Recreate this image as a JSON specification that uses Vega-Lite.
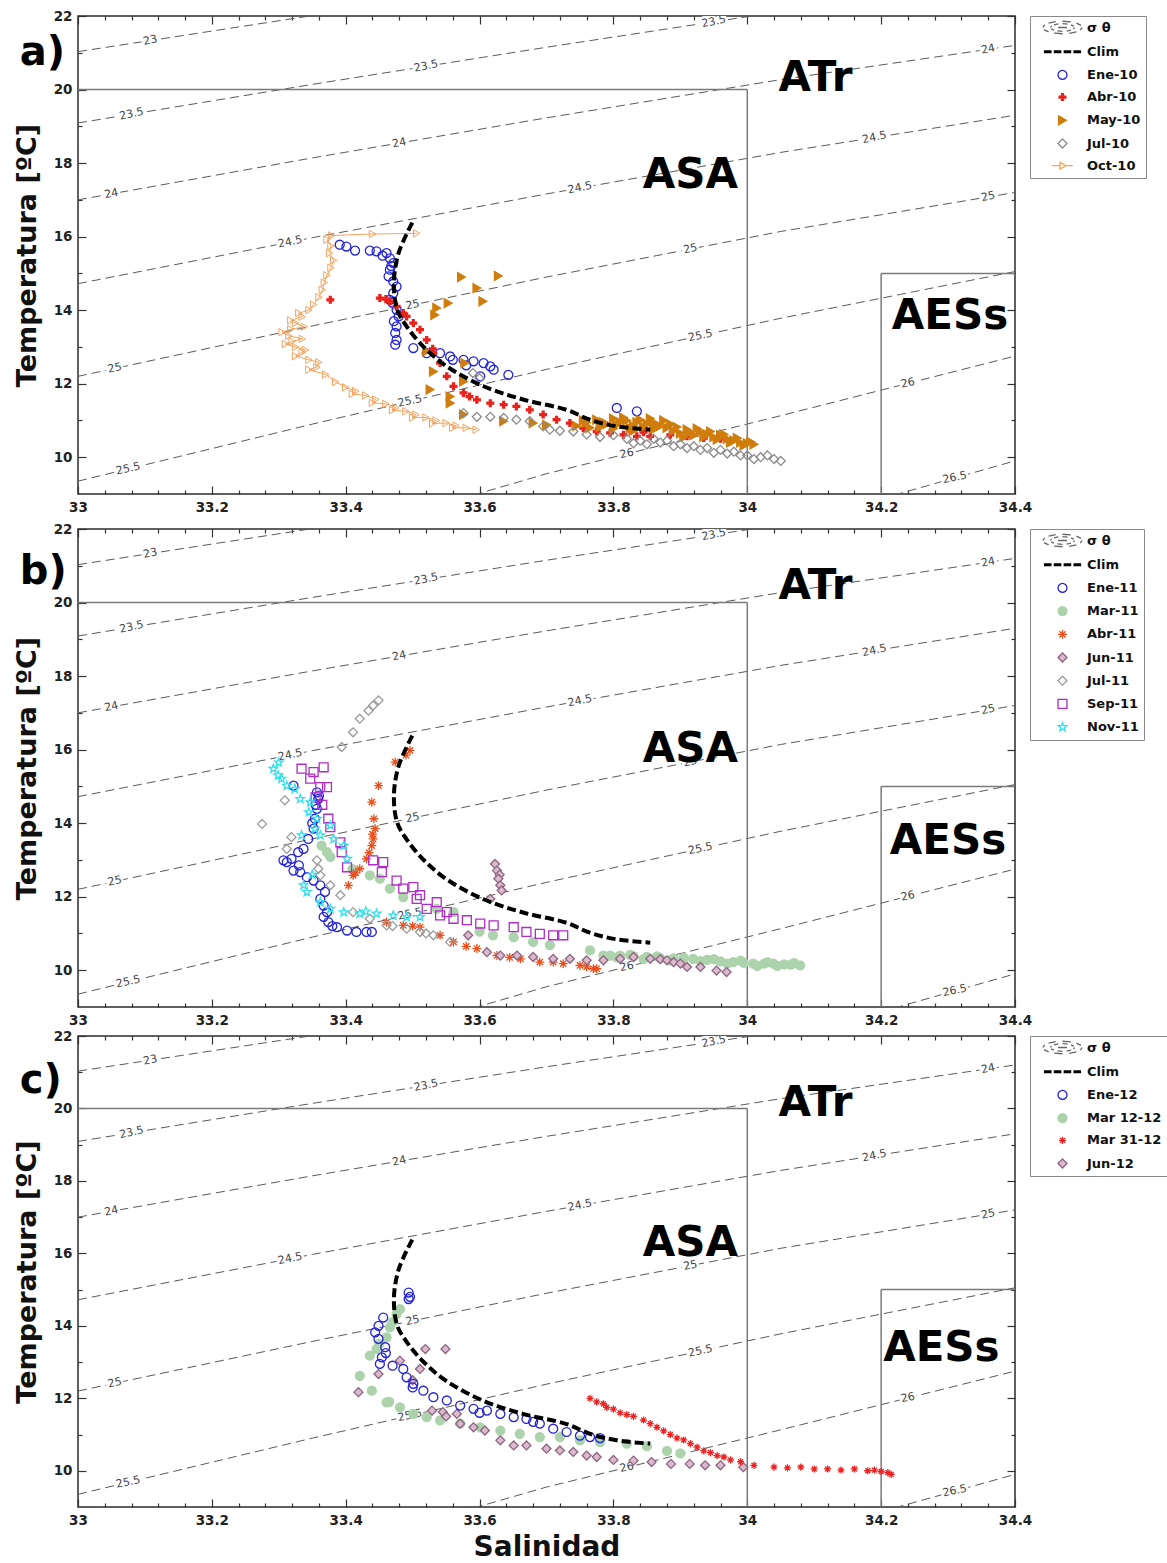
{
"$schema":"https://vega.github.io/schema/vega-lite/v6.json",
"background":"white",
"padding":{"left":12,"top":8,"right":0,"bottom":0},
"spacing":0,
"config":{
 "font":"DejaVu Sans",
 "view":{"stroke":"#2b2b2b","strokeWidth":1.5},
 "axis":{"grid":false,"domain":false,"labelFont":"DejaVu Sans","labelFontSize":13.5,"labelFontWeight":"bold","labelColor":"#222222","tickColor":"#333333","tickWidth":1.2,"labelOverlap":false,"labelFlush":false,"titleFont":"DejaVu Sans","titleFontWeight":"bold","titleFontSize":27,"titleColor":"#111111"},
 "legend":{"orient":"right","offset":14,"padding":5,"strokeColor":"#8a8a8a","fillColor":"#ffffff","labelFont":"DejaVu Sans","labelFontWeight":"bold","labelFontSize":13,"labelColor":"#111111","symbolSize":80,"symbolStrokeWidth":1.3,"rowPadding":8.2,"symbolOffset":21,"labelOffset":18,"labelLimit":300}
},
"datasets":{
"iso":[{"sig":"23","S":33,"T":21.03},{"sig":"23","S":33.35,"T":22.01},{"sig":"23","S":33.7,"T":22.95},
{"sig":"23.5","S":33,"T":19.09},{"sig":"23.5","S":33.35,"T":20.14},{"sig":"23.5","S":33.7,"T":21.15},{"sig":"23.5","S":34.05,"T":22.12},
{"sig":"24","S":33,"T":17.0},{"sig":"24","S":33.35,"T":18.14},{"sig":"24","S":33.7,"T":19.23},{"sig":"24","S":34.05,"T":20.27},{"sig":"24","S":34.4,"T":21.2},
{"sig":"24.5","S":33,"T":14.72},{"sig":"24.5","S":33.35,"T":15.97},{"sig":"24.5","S":33.7,"T":17.16},{"sig":"24.5","S":34.05,"T":18.29},{"sig":"24.5","S":34.4,"T":19.3},
{"sig":"25","S":33,"T":12.2},{"sig":"25","S":33.35,"T":13.57},{"sig":"25","S":33.7,"T":14.9},{"sig":"25","S":34.05,"T":16.14},{"sig":"25","S":34.4,"T":17.2},
{"sig":"25.5","S":33,"T":9.35},{"sig":"25.5","S":33.35,"T":10.9},{"sig":"25.5","S":33.7,"T":12.39},{"sig":"25.5","S":34.05,"T":13.78},{"sig":"25.5","S":34.4,"T":15.05},
{"sig":"26","S":33.35,"T":7.69},{"sig":"26","S":33.7,"T":9.55},{"sig":"26","S":34.05,"T":11.13},{"sig":"26","S":34.4,"T":12.75},
{"sig":"26.5","S":33.7,"T":6.03},{"sig":"26.5","S":34.05,"T":8.1},{"sig":"26.5","S":34.4,"T":9.9}],
"isolab":[{"lab":"23","S":33.108,"T":21.33},
{"lab":"23.5","S":33.08,"T":19.33},{"lab":"23.5","S":33.52,"T":20.63},{"lab":"23.5","S":33.95,"T":21.84},
{"lab":"24","S":33.05,"T":17.16},{"lab":"24","S":33.48,"T":18.54},{"lab":"24","S":34.36,"T":21.09},
{"lab":"24.5","S":33.317,"T":15.85},{"lab":"24.5","S":33.75,"T":17.32},{"lab":"24.5","S":34.19,"T":18.69},
{"lab":"25","S":33.055,"T":12.42},{"lab":"25","S":33.5,"T":14.14},{"lab":"25","S":33.915,"T":15.66},{"lab":"25","S":34.36,"T":17.08},
{"lab":"25.5","S":33.075,"T":9.68},{"lab":"25.5","S":33.496,"T":11.52},{"lab":"25.5","S":33.93,"T":13.3},
{"lab":"26","S":33.82,"T":10.09},{"lab":"26","S":34.24,"T":12.01},
{"lab":"26.5","S":34.31,"T":9.44}],
"boxes":[{"S":33,"S2":34,"T":20,"T2":20},{"S":34,"S2":34,"T":9,"T2":20},{"S":34.2,"S2":34.4,"T":15,"T2":15},{"S":34.2,"S2":34.2,"T":9,"T2":15}],
"clim":[{"i":0,"S":33.4995,"T":16.38},{"i":1,"S":33.479,"T":15.55},{"i":2,"S":33.472,"T":14.74},{"i":3,"S":33.477,"T":14.01},{"i":4,"S":33.491,"T":13.56},{"i":5,"S":33.516,"T":13.01},{"i":6,"S":33.551,"T":12.47},{"i":7,"S":33.606,"T":11.93},{"i":8,"S":33.665,"T":11.57},{"i":9,"S":33.73,"T":11.29},{"i":10,"S":33.765,"T":11.02},{"i":11,"S":33.805,"T":10.84},{"i":12,"S":33.855,"T":10.75}],
"oct":[{"i":0,"S":33.506,"T":16.09},{"i":1,"S":33.44,"T":16.07},{"i":2,"S":33.379,"T":16.03},{"i":3,"S":33.372,"T":15.92},{"i":4,"S":33.378,"T":15.75},{"i":5,"S":33.376,"T":15.55},{"i":6,"S":33.382,"T":15.35},{"i":7,"S":33.378,"T":15.15},{"i":8,"S":33.372,"T":14.95},{"i":9,"S":33.368,"T":14.75},{"i":10,"S":33.365,"T":14.55},{"i":11,"S":33.36,"T":14.35},{"i":12,"S":33.352,"T":14.15},{"i":13,"S":33.345,"T":14.0},{"i":13.5,"S":33.33,"T":13.92},{"i":14,"S":33.335,"T":13.82},{"i":14.5,"S":33.318,"T":13.72},{"i":15,"S":33.325,"T":13.65},{"i":15.5,"S":33.338,"T":13.55},{"i":16,"S":33.318,"T":13.48},{"i":16.5,"S":33.305,"T":13.4},{"i":17,"S":33.315,"T":13.3},{"i":17.5,"S":33.335,"T":13.22},{"i":18,"S":33.32,"T":13.15},{"i":18.5,"S":33.31,"T":13.08},{"i":19,"S":33.325,"T":13.0},{"i":19.5,"S":33.34,"T":12.92},{"i":20,"S":33.335,"T":12.85},{"i":20.5,"S":33.325,"T":12.75},{"i":21,"S":33.345,"T":12.65},{"i":21.5,"S":33.36,"T":12.58},{"i":22,"S":33.357,"T":12.45},{"i":22.5,"S":33.345,"T":12.38},{"i":23,"S":33.37,"T":12.25},{"i":24,"S":33.385,"T":12.05},{"i":25,"S":33.4,"T":11.9},{"i":26,"S":33.415,"T":11.8},{"i":26.5,"S":33.41,"T":11.72},{"i":27,"S":33.43,"T":11.68},{"i":28,"S":33.445,"T":11.57},{"i":28.5,"S":33.44,"T":11.48},{"i":29,"S":33.46,"T":11.45},{"i":30,"S":33.475,"T":11.35},{"i":30.5,"S":33.47,"T":11.28},{"i":31,"S":33.49,"T":11.25},{"i":32,"S":33.505,"T":11.16},{"i":32.5,"S":33.5,"T":11.08},{"i":33,"S":33.52,"T":11.08},{"i":34,"S":33.535,"T":11.0},{"i":34.5,"S":33.53,"T":10.92},{"i":35,"S":33.55,"T":10.93},{"i":36,"S":33.565,"T":10.86},{"i":36.5,"S":33.56,"T":10.8},{"i":37,"S":33.58,"T":10.8},{"i":38,"S":33.595,"T":10.75}],
"pa":[
{"serie":"Ene-10","S":33.391,"T":15.78},{"serie":"Ene-10","S":33.401,"T":15.73},{"serie":"Ene-10","S":33.414,"T":15.62},{"serie":"Ene-10","S":33.436,"T":15.62},{"serie":"Ene-10","S":33.446,"T":15.6},{"serie":"Ene-10","S":33.461,"T":15.55},{"serie":"Ene-10","S":33.466,"T":15.41},{"serie":"Ene-10","S":33.471,"T":15.28},{"serie":"Ene-10","S":33.466,"T":15.1},{"serie":"Ene-10","S":33.464,"T":14.92},{"serie":"Ene-10","S":33.471,"T":14.78},{"serie":"Ene-10","S":33.476,"T":14.64},{"serie":"Ene-10","S":33.471,"T":14.46},{"serie":"Ene-10","S":33.466,"T":14.28},{"serie":"Ene-10","S":33.476,"T":14.01},{"serie":"Ene-10","S":33.479,"T":13.83},{"serie":"Ene-10","S":33.476,"T":13.56},{"serie":"Ene-10","S":33.474,"T":13.38},{"serie":"Ene-10","S":33.476,"T":13.19},{"serie":"Ene-10","S":33.474,"T":13.06},{"serie":"Ene-10","S":33.501,"T":12.97},{"serie":"Ene-10","S":33.521,"T":12.83},{"serie":"Ene-10","S":33.541,"T":12.83},{"serie":"Ene-10","S":33.556,"T":12.74},{"serie":"Ene-10","S":33.576,"T":12.65},{"serie":"Ene-10","S":33.591,"T":12.61},{"serie":"Ene-10","S":33.606,"T":12.56},{"serie":"Ene-10","S":33.616,"T":12.47},{"serie":"Ene-10","S":33.621,"T":12.38},{"serie":"Ene-10","S":33.643,"T":12.24},{"serie":"Ene-10","S":33.601,"T":12.2},{"serie":"Ene-10","S":33.805,"T":11.34},{"serie":"Ene-10","S":33.835,"T":11.25},{"serie":"Ene-10","S":33.455,"T":15.48},{"serie":"Ene-10","S":33.468,"T":15.2},{"serie":"Ene-10","S":33.47,"T":14.2},{"serie":"Ene-10","S":33.472,"T":13.7},{"serie":"Ene-10","S":33.58,"T":12.5},{"serie":"Ene-10","S":33.56,"T":12.65},
{"serie":"Abr-10","S":33.377,"T":14.28},{"serie":"Abr-10","S":33.451,"T":14.33},{"serie":"Abr-10","S":33.466,"T":14.24},{"serie":"Abr-10","S":33.476,"T":14.1},{"serie":"Abr-10","S":33.486,"T":13.92},{"serie":"Abr-10","S":33.491,"T":13.83},{"serie":"Abr-10","S":33.501,"T":13.65},{"serie":"Abr-10","S":33.511,"T":13.47},{"serie":"Abr-10","S":33.521,"T":13.19},{"serie":"Abr-10","S":33.531,"T":12.83},{"serie":"Abr-10","S":33.541,"T":12.56},{"serie":"Abr-10","S":33.551,"T":12.2},{"serie":"Abr-10","S":33.561,"T":11.93},{"serie":"Abr-10","S":33.576,"T":11.75},{"serie":"Abr-10","S":33.596,"T":11.56},{"serie":"Abr-10","S":33.616,"T":11.47},{"serie":"Abr-10","S":33.636,"T":11.43},{"serie":"Abr-10","S":33.655,"T":11.38},{"serie":"Abr-10","S":33.675,"T":11.29},{"serie":"Abr-10","S":33.695,"T":11.16},{"serie":"Abr-10","S":33.715,"T":11.02},{"serie":"Abr-10","S":33.735,"T":10.93},{"serie":"Abr-10","S":33.755,"T":10.79},{"serie":"Abr-10","S":33.775,"T":10.7},{"serie":"Abr-10","S":33.795,"T":10.66},{"serie":"Abr-10","S":33.815,"T":10.61},{"serie":"Abr-10","S":33.835,"T":10.57},{"serie":"Abr-10","S":33.855,"T":10.57},{"serie":"Abr-10","S":33.885,"T":10.61},{"serie":"Abr-10","S":33.91,"T":10.57},{"serie":"Abr-10","S":33.935,"T":10.52},{"serie":"Abr-10","S":33.96,"T":10.5},{"serie":"Abr-10","S":33.46,"T":14.3},{"serie":"Abr-10","S":33.53,"T":12.95},{"serie":"Abr-10","S":33.585,"T":11.65},{"serie":"Abr-10","S":33.825,"T":10.72},{"serie":"Abr-10","S":33.845,"T":10.68},
{"serie":"May-10","S":33.573,"T":14.9},{"serie":"May-10","S":33.628,"T":14.93},{"serie":"May-10","S":33.596,"T":14.6},{"serie":"May-10","S":33.605,"T":14.24},{"serie":"May-10","S":33.553,"T":14.19},{"serie":"May-10","S":33.536,"T":14.06},{"serie":"May-10","S":33.533,"T":13.87},{"serie":"May-10","S":33.521,"T":12.88},{"serie":"May-10","S":33.531,"T":12.33},{"serie":"May-10","S":33.526,"T":11.84},{"serie":"May-10","S":33.556,"T":11.65},{"serie":"May-10","S":33.556,"T":11.47},{"serie":"May-10","S":33.576,"T":11.16},{"serie":"May-10","S":33.578,"T":12.56},{"serie":"May-10","S":33.576,"T":12.06},{"serie":"May-10","S":33.636,"T":10.98},{"serie":"May-10","S":33.68,"T":10.93},{"serie":"May-10","S":33.7,"T":10.88},{"serie":"May-10","S":33.745,"T":10.85},{"serie":"May-10","S":33.755,"T":11.0},{"serie":"May-10","S":33.76,"T":10.95},{"serie":"May-10","S":33.765,"T":10.8},{"serie":"May-10","S":33.775,"T":11.02},{"serie":"May-10","S":33.785,"T":10.95},{"serie":"May-10","S":33.79,"T":10.9},{"serie":"May-10","S":33.8,"T":11.05},{"serie":"May-10","S":33.805,"T":10.88},{"serie":"May-10","S":33.81,"T":10.95},{"serie":"May-10","S":33.815,"T":11.08},{"serie":"May-10","S":33.82,"T":11.0},{"serie":"May-10","S":33.825,"T":10.8},{"serie":"May-10","S":33.83,"T":10.85},{"serie":"May-10","S":33.835,"T":10.95},{"serie":"May-10","S":33.84,"T":11.02},{"serie":"May-10","S":33.845,"T":10.82},{"serie":"May-10","S":33.85,"T":10.9},{"serie":"May-10","S":33.855,"T":11.05},{"serie":"May-10","S":33.86,"T":10.95},{"serie":"May-10","S":33.865,"T":10.8},{"serie":"May-10","S":33.87,"T":10.85},{"serie":"May-10","S":33.875,"T":11.0},{"serie":"May-10","S":33.88,"T":10.8},{"serie":"May-10","S":33.885,"T":10.9},{"serie":"May-10","S":33.89,"T":10.72},{"serie":"May-10","S":33.895,"T":10.82},{"serie":"May-10","S":33.9,"T":10.65},{"serie":"May-10","S":33.905,"T":10.55},{"serie":"May-10","S":33.91,"T":10.75},{"serie":"May-10","S":33.915,"T":10.68},{"serie":"May-10","S":33.92,"T":10.6},{"serie":"May-10","S":33.925,"T":10.78},{"serie":"May-10","S":33.93,"T":10.7},{"serie":"May-10","S":33.935,"T":10.55},{"serie":"May-10","S":33.94,"T":10.62},{"serie":"May-10","S":33.945,"T":10.7},{"serie":"May-10","S":33.95,"T":10.55},{"serie":"May-10","S":33.955,"T":10.48},{"serie":"May-10","S":33.96,"T":10.6},{"serie":"May-10","S":33.965,"T":10.62},{"serie":"May-10","S":33.97,"T":10.5},{"serie":"May-10","S":33.975,"T":10.4},{"serie":"May-10","S":33.98,"T":10.45},{"serie":"May-10","S":33.985,"T":10.52},{"serie":"May-10","S":33.99,"T":10.4},{"serie":"May-10","S":33.995,"T":10.32},{"serie":"May-10","S":34.0,"T":10.38},{"serie":"May-10","S":34.005,"T":10.42},{"serie":"May-10","S":34.01,"T":10.35},{"serie":"May-10","S":33.78,"T":10.82},{"serie":"May-10","S":33.8,"T":10.78},{"serie":"May-10","S":33.83,"T":10.72},{"serie":"May-10","S":33.86,"T":10.78},
{"serie":"Jul-10","S":33.59,"T":12.29},{"serie":"Jul-10","S":33.6,"T":12.15},{"serie":"Jul-10","S":33.576,"T":11.2},{"serie":"Jul-10","S":33.596,"T":11.1},{"serie":"Jul-10","S":33.616,"T":11.1},{"serie":"Jul-10","S":33.636,"T":11.07},{"serie":"Jul-10","S":33.655,"T":11.02},{"serie":"Jul-10","S":33.675,"T":10.98},{"serie":"Jul-10","S":33.695,"T":10.84},{"serie":"Jul-10","S":33.705,"T":10.75},{"serie":"Jul-10","S":33.72,"T":10.72},{"serie":"Jul-10","S":33.74,"T":10.7},{"serie":"Jul-10","S":33.76,"T":10.62},{"serie":"Jul-10","S":33.78,"T":10.55},{"serie":"Jul-10","S":33.8,"T":10.6},{"serie":"Jul-10","S":33.82,"T":10.5},{"serie":"Jul-10","S":33.83,"T":10.38},{"serie":"Jul-10","S":33.84,"T":10.45},{"serie":"Jul-10","S":33.85,"T":10.35},{"serie":"Jul-10","S":33.86,"T":10.5},{"serie":"Jul-10","S":33.87,"T":10.4},{"serie":"Jul-10","S":33.88,"T":10.45},{"serie":"Jul-10","S":33.89,"T":10.3},{"serie":"Jul-10","S":33.9,"T":10.35},{"serie":"Jul-10","S":33.91,"T":10.25},{"serie":"Jul-10","S":33.92,"T":10.3},{"serie":"Jul-10","S":33.93,"T":10.2},{"serie":"Jul-10","S":33.94,"T":10.25},{"serie":"Jul-10","S":33.95,"T":10.12},{"serie":"Jul-10","S":33.96,"T":10.2},{"serie":"Jul-10","S":33.97,"T":10.1},{"serie":"Jul-10","S":33.98,"T":10.15},{"serie":"Jul-10","S":33.99,"T":10.05},{"serie":"Jul-10","S":34.0,"T":10.05},{"serie":"Jul-10","S":34.01,"T":9.95},{"serie":"Jul-10","S":34.02,"T":10.0},{"serie":"Jul-10","S":34.03,"T":10.05},{"serie":"Jul-10","S":34.04,"T":9.95},{"serie":"Jul-10","S":34.05,"T":9.9}
],
"pb":[
{"serie":"Ene-11","S":33.322,"T":15.02},{"serie":"Ene-11","S":33.357,"T":14.84},{"serie":"Ene-11","S":33.359,"T":14.66},{"serie":"Ene-11","S":33.357,"T":14.39},{"serie":"Ene-11","S":33.354,"T":14.12},{"serie":"Ene-11","S":33.352,"T":13.85},{"serie":"Ene-11","S":33.344,"T":13.57},{"serie":"Ene-11","S":33.337,"T":13.3},{"serie":"Ene-11","S":33.329,"T":13.21},{"serie":"Ene-11","S":33.319,"T":13.03},{"serie":"Ene-11","S":33.312,"T":12.94},{"serie":"Ene-11","S":33.307,"T":12.99},{"serie":"Ene-11","S":33.322,"T":12.71},{"serie":"Ene-11","S":33.332,"T":12.67},{"serie":"Ene-11","S":33.342,"T":12.53},{"serie":"Ene-11","S":33.352,"T":12.44},{"serie":"Ene-11","S":33.362,"T":12.31},{"serie":"Ene-11","S":33.369,"T":12.13},{"serie":"Ene-11","S":33.362,"T":11.94},{"serie":"Ene-11","S":33.367,"T":11.76},{"serie":"Ene-11","S":33.372,"T":11.58},{"serie":"Ene-11","S":33.367,"T":11.45},{"serie":"Ene-11","S":33.374,"T":11.31},{"serie":"Ene-11","S":33.387,"T":11.17},{"serie":"Ene-11","S":33.402,"T":11.08},{"serie":"Ene-11","S":33.416,"T":11.04},{"serie":"Ene-11","S":33.431,"T":11.04},{"serie":"Ene-11","S":33.439,"T":11.04},{"serie":"Ene-11","S":33.36,"T":14.75},{"serie":"Ene-11","S":33.355,"T":14.5},{"serie":"Ene-11","S":33.35,"T":14.0},{"serie":"Ene-11","S":33.33,"T":12.85},{"serie":"Ene-11","S":33.38,"T":11.2},
{"serie":"Mar-11","S":33.364,"T":13.39},{"serie":"Mar-11","S":33.372,"T":13.21},{"serie":"Mar-11","S":33.377,"T":13.08},{"serie":"Mar-11","S":33.41,"T":12.75},{"serie":"Mar-11","S":33.436,"T":12.58},{"serie":"Mar-11","S":33.451,"T":12.49},{"serie":"Mar-11","S":33.466,"T":12.22},{"serie":"Mar-11","S":33.486,"T":11.99},{"serie":"Mar-11","S":33.536,"T":11.67},{"serie":"Mar-11","S":33.561,"T":11.58},{"serie":"Mar-11","S":33.6,"T":11.05},{"serie":"Mar-11","S":33.62,"T":10.95},{"serie":"Mar-11","S":33.651,"T":10.9},{"serie":"Mar-11","S":33.68,"T":10.77},{"serie":"Mar-11","S":33.705,"T":10.68},{"serie":"Mar-11","S":33.765,"T":10.54},{"serie":"Mar-11","S":33.785,"T":10.4},{"serie":"Mar-11","S":33.795,"T":10.4},{"serie":"Mar-11","S":33.805,"T":10.35},{"serie":"Mar-11","S":33.81,"T":10.4},{"serie":"Mar-11","S":33.825,"T":10.42},{"serie":"Mar-11","S":33.83,"T":10.38},{"serie":"Mar-11","S":33.845,"T":10.3},{"serie":"Mar-11","S":33.85,"T":10.36},{"serie":"Mar-11","S":33.865,"T":10.38},{"serie":"Mar-11","S":33.87,"T":10.33},{"serie":"Mar-11","S":33.885,"T":10.27},{"serie":"Mar-11","S":33.89,"T":10.32},{"serie":"Mar-11","S":33.905,"T":10.34},{"serie":"Mar-11","S":33.919,"T":10.31},{"serie":"Mar-11","S":33.93,"T":10.25},{"serie":"Mar-11","S":33.94,"T":10.28},{"serie":"Mar-11","S":33.95,"T":10.3},{"serie":"Mar-11","S":33.96,"T":10.24},{"serie":"Mar-11","S":33.97,"T":10.18},{"serie":"Mar-11","S":33.979,"T":10.22},{"serie":"Mar-11","S":33.99,"T":10.26},{"serie":"Mar-11","S":33.995,"T":10.2},{"serie":"Mar-11","S":34.009,"T":10.18},{"serie":"Mar-11","S":34.015,"T":10.12},{"serie":"Mar-11","S":34.025,"T":10.18},{"serie":"Mar-11","S":34.03,"T":10.22},{"serie":"Mar-11","S":34.039,"T":10.18},{"serie":"Mar-11","S":34.045,"T":10.12},{"serie":"Mar-11","S":34.055,"T":10.16},{"serie":"Mar-11","S":34.065,"T":10.15},{"serie":"Mar-11","S":34.07,"T":10.19},{"serie":"Mar-11","S":34.079,"T":10.13},
{"serie":"Abr-11","S":33.496,"T":15.98},{"serie":"Abr-11","S":33.49,"T":15.85},{"serie":"Abr-11","S":33.474,"T":15.66},{"serie":"Abr-11","S":33.449,"T":15.02},{"serie":"Abr-11","S":33.439,"T":14.57},{"serie":"Abr-11","S":33.442,"T":14.12},{"serie":"Abr-11","S":33.444,"T":13.85},{"serie":"Abr-11","S":33.44,"T":13.7},{"serie":"Abr-11","S":33.441,"T":13.57},{"serie":"Abr-11","S":33.439,"T":13.39},{"serie":"Abr-11","S":33.435,"T":13.2},{"serie":"Abr-11","S":33.431,"T":13.03},{"serie":"Abr-11","S":33.421,"T":12.76},{"serie":"Abr-11","S":33.415,"T":12.65},{"serie":"Abr-11","S":33.411,"T":12.58},{"serie":"Abr-11","S":33.404,"T":12.31},{"serie":"Abr-11","S":33.461,"T":11.31},{"serie":"Abr-11","S":33.486,"T":11.22},{"serie":"Abr-11","S":33.5,"T":11.2},{"serie":"Abr-11","S":33.511,"T":11.17},{"serie":"Abr-11","S":33.541,"T":10.95},{"serie":"Abr-11","S":33.561,"T":10.77},{"serie":"Abr-11","S":33.58,"T":10.65},{"serie":"Abr-11","S":33.596,"T":10.59},{"serie":"Abr-11","S":33.626,"T":10.4},{"serie":"Abr-11","S":33.645,"T":10.35},{"serie":"Abr-11","S":33.661,"T":10.31},{"serie":"Abr-11","S":33.69,"T":10.22},{"serie":"Abr-11","S":33.71,"T":10.22},{"serie":"Abr-11","S":33.725,"T":10.18},{"serie":"Abr-11","S":33.75,"T":10.13},{"serie":"Abr-11","S":33.76,"T":10.09},{"serie":"Abr-11","S":33.77,"T":10.04},{"serie":"Abr-11","S":33.775,"T":10.04},
{"serie":"Jun-11","S":33.623,"T":12.89},{"serie":"Jun-11","S":33.626,"T":12.71},{"serie":"Jun-11","S":33.63,"T":12.6},{"serie":"Jun-11","S":33.628,"T":12.49},{"serie":"Jun-11","S":33.631,"T":12.31},{"serie":"Jun-11","S":33.633,"T":12.17},{"serie":"Jun-11","S":33.616,"T":11.94},{"serie":"Jun-11","S":33.583,"T":10.95},{"serie":"Jun-11","S":33.611,"T":10.49},{"serie":"Jun-11","S":33.631,"T":10.4},{"serie":"Jun-11","S":33.656,"T":10.4},{"serie":"Jun-11","S":33.68,"T":10.36},{"serie":"Jun-11","S":33.71,"T":10.31},{"serie":"Jun-11","S":33.735,"T":10.31},{"serie":"Jun-11","S":33.76,"T":10.27},{"serie":"Jun-11","S":33.785,"T":10.27},{"serie":"Jun-11","S":33.81,"T":10.31},{"serie":"Jun-11","S":33.83,"T":10.36},{"serie":"Jun-11","S":33.855,"T":10.31},{"serie":"Jun-11","S":33.87,"T":10.3},{"serie":"Jun-11","S":33.88,"T":10.27},{"serie":"Jun-11","S":33.89,"T":10.22},{"serie":"Jun-11","S":33.9,"T":10.18},{"serie":"Jun-11","S":33.91,"T":10.09},{"serie":"Jun-11","S":33.93,"T":10.09},{"serie":"Jun-11","S":33.954,"T":9.99},{"serie":"Jun-11","S":33.969,"T":9.95},
{"serie":"Jul-11","S":33.449,"T":17.34},{"serie":"Jul-11","S":33.441,"T":17.2},{"serie":"Jul-11","S":33.434,"T":17.06},{"serie":"Jul-11","S":33.421,"T":16.84},{"serie":"Jul-11","S":33.411,"T":16.47},{"serie":"Jul-11","S":33.394,"T":16.07},{"serie":"Jul-11","S":33.309,"T":14.62},{"serie":"Jul-11","S":33.275,"T":13.98},{"serie":"Jul-11","S":33.319,"T":13.62},{"serie":"Jul-11","S":33.312,"T":13.3},{"serie":"Jul-11","S":33.357,"T":12.99},{"serie":"Jul-11","S":33.359,"T":12.76},{"serie":"Jul-11","S":33.362,"T":12.58},{"serie":"Jul-11","S":33.377,"T":12.31},{"serie":"Jul-11","S":33.392,"T":12.04},{"serie":"Jul-11","S":33.411,"T":11.58},{"serie":"Jul-11","S":33.436,"T":11.4},{"serie":"Jul-11","S":33.461,"T":11.22},{"serie":"Jul-11","S":33.47,"T":11.2},{"serie":"Jul-11","S":33.491,"T":11.13},{"serie":"Jul-11","S":33.511,"T":11.04},{"serie":"Jul-11","S":33.52,"T":11.0},{"serie":"Jul-11","S":33.531,"T":10.95},{"serie":"Jul-11","S":33.556,"T":10.77},
{"serie":"Sep-11","S":33.334,"T":15.48},{"serie":"Sep-11","S":33.352,"T":15.39},{"serie":"Sep-11","S":33.367,"T":15.52},{"serie":"Sep-11","S":33.347,"T":15.21},{"serie":"Sep-11","S":33.362,"T":14.98},{"serie":"Sep-11","S":33.372,"T":14.98},{"serie":"Sep-11","S":33.355,"T":14.7},{"serie":"Sep-11","S":33.365,"T":14.5},{"serie":"Sep-11","S":33.374,"T":14.12},{"serie":"Sep-11","S":33.377,"T":13.89},{"serie":"Sep-11","S":33.392,"T":13.48},{"serie":"Sep-11","S":33.394,"T":13.21},{"serie":"Sep-11","S":33.402,"T":12.8},{"serie":"Sep-11","S":33.441,"T":12.99},{"serie":"Sep-11","S":33.456,"T":12.94},{"serie":"Sep-11","S":33.454,"T":12.67},{"serie":"Sep-11","S":33.476,"T":12.44},{"serie":"Sep-11","S":33.486,"T":12.22},{"serie":"Sep-11","S":33.501,"T":12.26},{"serie":"Sep-11","S":33.511,"T":12.04},{"serie":"Sep-11","S":33.506,"T":11.94},{"serie":"Sep-11","S":33.521,"T":11.67},{"serie":"Sep-11","S":33.536,"T":11.85},{"serie":"Sep-11","S":33.551,"T":11.58},{"serie":"Sep-11","S":33.541,"T":11.49},{"serie":"Sep-11","S":33.561,"T":11.4},{"serie":"Sep-11","S":33.581,"T":11.36},{"serie":"Sep-11","S":33.601,"T":11.27},{"serie":"Sep-11","S":33.621,"T":11.22},{"serie":"Sep-11","S":33.651,"T":11.17},{"serie":"Sep-11","S":33.67,"T":11.04},{"serie":"Sep-11","S":33.69,"T":10.99},{"serie":"Sep-11","S":33.71,"T":10.95},{"serie":"Sep-11","S":33.725,"T":10.95},
{"serie":"Nov-11","S":33.3,"T":15.65},{"serie":"Nov-11","S":33.292,"T":15.48},{"serie":"Nov-11","S":33.299,"T":15.3},{"serie":"Nov-11","S":33.304,"T":15.21},{"serie":"Nov-11","S":33.312,"T":15.02},{"serie":"Nov-11","S":33.324,"T":14.93},{"serie":"Nov-11","S":33.332,"T":14.66},{"serie":"Nov-11","S":33.347,"T":14.57},{"serie":"Nov-11","S":33.345,"T":14.3},{"serie":"Nov-11","S":33.357,"T":14.12},{"serie":"Nov-11","S":33.354,"T":13.85},{"serie":"Nov-11","S":33.362,"T":13.67},{"serie":"Nov-11","S":33.377,"T":13.94},{"serie":"Nov-11","S":33.382,"T":13.57},{"serie":"Nov-11","S":33.397,"T":13.39},{"serie":"Nov-11","S":33.402,"T":13.03},{"serie":"Nov-11","S":33.334,"T":13.67},{"serie":"Nov-11","S":33.35,"T":12.6},{"serie":"Nov-11","S":33.337,"T":12.31},{"serie":"Nov-11","S":33.342,"T":12.13},{"serie":"Nov-11","S":33.362,"T":11.85},{"serie":"Nov-11","S":33.377,"T":11.67},{"serie":"Nov-11","S":33.397,"T":11.58},{"serie":"Nov-11","S":33.421,"T":11.54},{"serie":"Nov-11","S":33.43,"T":11.6},{"serie":"Nov-11","S":33.446,"T":11.54},{"serie":"Nov-11","S":33.471,"T":11.49},{"serie":"Nov-11","S":33.491,"T":11.45},{"serie":"Nov-11","S":33.511,"T":11.45}
],
"pc":[
{"serie":"Mar 12-12","S":33.481,"T":14.46},{"serie":"Mar 12-12","S":33.476,"T":14.32},{"serie":"Mar 12-12","S":33.47,"T":14.1},{"serie":"Mar 12-12","S":33.466,"T":13.96},{"serie":"Mar 12-12","S":33.461,"T":13.68},{"serie":"Mar 12-12","S":33.45,"T":13.5},{"serie":"Mar 12-12","S":33.446,"T":13.36},{"serie":"Mar 12-12","S":33.436,"T":13.18},{"serie":"Mar 12-12","S":33.421,"T":12.62},{"serie":"Mar 12-12","S":33.439,"T":12.21},{"serie":"Mar 12-12","S":33.461,"T":11.89},{"serie":"Mar 12-12","S":33.465,"T":11.9},{"serie":"Mar 12-12","S":33.481,"T":11.75},{"serie":"Mar 12-12","S":33.501,"T":11.57},{"serie":"Mar 12-12","S":33.521,"T":11.48},{"serie":"Mar 12-12","S":33.541,"T":11.39},{"serie":"Mar 12-12","S":33.571,"T":11.3},{"serie":"Mar 12-12","S":33.601,"T":11.2},{"serie":"Mar 12-12","S":33.631,"T":11.11},{"serie":"Mar 12-12","S":33.66,"T":11.02},{"serie":"Mar 12-12","S":33.69,"T":10.93},{"serie":"Mar 12-12","S":33.72,"T":10.93},{"serie":"Mar 12-12","S":33.75,"T":10.84},{"serie":"Mar 12-12","S":33.78,"T":10.79},{"serie":"Mar 12-12","S":33.82,"T":10.75},{"serie":"Mar 12-12","S":33.85,"T":10.68},{"serie":"Mar 12-12","S":33.88,"T":10.55},{"serie":"Mar 12-12","S":33.9,"T":10.48},
{"serie":"Jun-12","S":33.519,"T":13.36},{"serie":"Jun-12","S":33.549,"T":13.36},{"serie":"Jun-12","S":33.481,"T":13.04},{"serie":"Jun-12","S":33.449,"T":12.67},{"serie":"Jun-12","S":33.419,"T":12.17},{"serie":"Jun-12","S":33.511,"T":12.81},{"serie":"Jun-12","S":33.5,"T":12.5},{"serie":"Jun-12","S":33.529,"T":11.66},{"serie":"Jun-12","S":33.545,"T":11.62},{"serie":"Jun-12","S":33.55,"T":11.5},{"serie":"Jun-12","S":33.566,"T":11.57},{"serie":"Jun-12","S":33.571,"T":11.3},{"serie":"Jun-12","S":33.591,"T":11.2},{"serie":"Jun-12","S":33.608,"T":11.11},{"serie":"Jun-12","S":33.631,"T":10.84},{"serie":"Jun-12","S":33.651,"T":10.7},{"serie":"Jun-12","S":33.67,"T":10.7},{"serie":"Jun-12","S":33.7,"T":10.61},{"serie":"Jun-12","S":33.72,"T":10.56},{"serie":"Jun-12","S":33.74,"T":10.52},{"serie":"Jun-12","S":33.76,"T":10.42},{"serie":"Jun-12","S":33.775,"T":10.38},{"serie":"Jun-12","S":33.8,"T":10.3},{"serie":"Jun-12","S":33.83,"T":10.28},{"serie":"Jun-12","S":33.857,"T":10.24},{"serie":"Jun-12","S":33.886,"T":10.19},{"serie":"Jun-12","S":33.914,"T":10.19},{"serie":"Jun-12","S":33.937,"T":10.15},{"serie":"Jun-12","S":33.96,"T":10.15},{"serie":"Jun-12","S":33.994,"T":10.1},
{"serie":"Ene-12","S":33.494,"T":14.92},{"serie":"Ene-12","S":33.496,"T":14.8},{"serie":"Ene-12","S":33.494,"T":14.74},{"serie":"Ene-12","S":33.456,"T":14.23},{"serie":"Ene-12","S":33.449,"T":14.0},{"serie":"Ene-12","S":33.444,"T":13.82},{"serie":"Ene-12","S":33.449,"T":13.64},{"serie":"Ene-12","S":33.459,"T":13.41},{"serie":"Ene-12","S":33.46,"T":13.25},{"serie":"Ene-12","S":33.454,"T":13.13},{"serie":"Ene-12","S":33.451,"T":12.95},{"serie":"Ene-12","S":33.47,"T":12.9},{"serie":"Ene-12","S":33.486,"T":12.81},{"serie":"Ene-12","S":33.491,"T":12.58},{"serie":"Ene-12","S":33.501,"T":12.4},{"serie":"Ene-12","S":33.5,"T":12.3},{"serie":"Ene-12","S":33.516,"T":12.21},{"serie":"Ene-12","S":33.531,"T":12.03},{"serie":"Ene-12","S":33.551,"T":11.94},{"serie":"Ene-12","S":33.571,"T":11.8},{"serie":"Ene-12","S":33.591,"T":11.71},{"serie":"Ene-12","S":33.6,"T":11.6},{"serie":"Ene-12","S":33.611,"T":11.66},{"serie":"Ene-12","S":33.631,"T":11.57},{"serie":"Ene-12","S":33.651,"T":11.48},{"serie":"Ene-12","S":33.67,"T":11.43},{"serie":"Ene-12","S":33.68,"T":11.35},{"serie":"Ene-12","S":33.69,"T":11.3},{"serie":"Ene-12","S":33.71,"T":11.16},{"serie":"Ene-12","S":33.73,"T":11.07},{"serie":"Ene-12","S":33.75,"T":10.97},{"serie":"Ene-12","S":33.765,"T":10.93},{"serie":"Ene-12","S":33.78,"T":10.9},
{"serie":"Mar 31-12","S":33.765,"T":12.0},{"serie":"Mar 31-12","S":33.775,"T":11.9},{"serie":"Mar 31-12","S":33.785,"T":11.85},{"serie":"Mar 31-12","S":33.79,"T":11.75},{"serie":"Mar 31-12","S":33.8,"T":11.7},{"serie":"Mar 31-12","S":33.81,"T":11.6},{"serie":"Mar 31-12","S":33.82,"T":11.55},{"serie":"Mar 31-12","S":33.83,"T":11.5},{"serie":"Mar 31-12","S":33.845,"T":11.4},{"serie":"Mar 31-12","S":33.855,"T":11.3},{"serie":"Mar 31-12","S":33.865,"T":11.2},{"serie":"Mar 31-12","S":33.875,"T":11.1},{"serie":"Mar 31-12","S":33.885,"T":11.0},{"serie":"Mar 31-12","S":33.895,"T":10.9},{"serie":"Mar 31-12","S":33.905,"T":10.85},{"serie":"Mar 31-12","S":33.915,"T":10.75},{"serie":"Mar 31-12","S":33.925,"T":10.65},{"serie":"Mar 31-12","S":33.935,"T":10.55},{"serie":"Mar 31-12","S":33.945,"T":10.5},{"serie":"Mar 31-12","S":33.955,"T":10.42},{"serie":"Mar 31-12","S":33.965,"T":10.38},{"serie":"Mar 31-12","S":33.975,"T":10.3},{"serie":"Mar 31-12","S":33.99,"T":10.25},{"serie":"Mar 31-12","S":34.01,"T":10.15},{"serie":"Mar 31-12","S":34.04,"T":10.1},{"serie":"Mar 31-12","S":34.06,"T":10.08},{"serie":"Mar 31-12","S":34.08,"T":10.1},{"serie":"Mar 31-12","S":34.1,"T":10.05},{"serie":"Mar 31-12","S":34.12,"T":10.05},{"serie":"Mar 31-12","S":34.14,"T":10.02},{"serie":"Mar 31-12","S":34.16,"T":10.05},{"serie":"Mar 31-12","S":34.18,"T":10.0},{"serie":"Mar 31-12","S":34.19,"T":10.02},{"serie":"Mar 31-12","S":34.2,"T":9.98},{"serie":"Mar 31-12","S":34.21,"T":9.95},{"serie":"Mar 31-12","S":34.215,"T":9.9}
]
},
"resolve":{"scale":{"shape":"independent","fill":"independent","stroke":"independent"},"legend":{"shape":"independent","fill":"independent","stroke":"independent"}},
"vconcat":[
{"width":937,"height":478,
 "resolve":{"axis":{"x":"independent","y":"independent"}},
 "layer":[
  {"data":{"name":"iso"},"mark":{"type":"line","clip":true,"stroke":"#5a5a5a","strokeWidth":1,"strokeDash":[9,5]},
   "encoding":{"x":{"field":"S","type":"quantitative","scale":{"domain":[33,34.4],"nice":false,"zero":false},"axis":{"orient":"bottom","values":[33,33.2,33.4,33.6,33.8,34,34.2,34.4],"format":"~g","ticks":false,"labelPadding":6,"title":" ","titleFontSize":6,"titlePadding":0}},
    "y":{"field":"T","type":"quantitative","scale":{"domain":[9,22],"nice":false,"zero":false},"axis":{"orient":"left","values":[10,12,14,16,18,20,22],"format":"~g","ticks":false,"labelPadding":6,"title":"Temperatura [ºC]","titlePadding":12}},
    "detail":{"field":"sig","type":"nominal"}}},
  {"data":{"name":"isolab"},"mark":{"type":"text","angle":-12,"fontSize":11,"stroke":"white","strokeWidth":5,"fill":"white","clip":true},
   "encoding":{"x":{"field":"S","type":"quantitative","scale":{"domain":[33,34.4],"nice":false,"zero":false},"axis":{"orient":"bottom","values":[33,33.2,33.4,33.6,33.8,34,34.2,34.4],"labels":false,"tickSize":-8,"title":null}},
    "y":{"field":"T","type":"quantitative","scale":{"domain":[9,22],"nice":false,"zero":false},"axis":{"orient":"left","values":[10,12,14,16,18,20,22],"labels":false,"tickSize":-8,"title":null}},
    "text":{"field":"lab"}}},
  {"data":{"name":"isolab"},"mark":{"type":"text","angle":-12,"fontSize":11,"fill":"#444444","clip":true},
   "encoding":{"x":{"field":"S","type":"quantitative","scale":{"domain":[33,34.4],"nice":false,"zero":false},"axis":{"orient":"bottom","values":[33.04,33.08,33.12,33.16,33.24,33.28,33.32,33.36,33.44,33.48,33.52,33.56,33.64,33.68,33.72,33.76,33.84,33.88,33.92,33.96,34.04,34.08,34.12,34.16,34.24,34.28,34.32,34.36],"labels":false,"tickSize":-4,"title":null}},
    "y":{"field":"T","type":"quantitative","scale":{"domain":[9,22],"nice":false,"zero":false},"axis":{"orient":"left","values":[11,13,15,17,19,21],"labels":false,"tickSize":-4,"title":null}},
    "text":{"field":"lab"}}},
  {"data":{"name":"boxes"},"mark":{"type":"rule","stroke":"#7a7a7a","strokeWidth":1.5},
   "encoding":{"x":{"field":"S","type":"quantitative","scale":{"domain":[33,34.4],"nice":false,"zero":false},"axis":{"orient":"top","values":[33,33.2,33.4,33.6,33.8,34,34.2,34.4],"labels":false,"tickSize":-8,"title":null}},"x2":{"field":"S2"},
    "y":{"field":"T","type":"quantitative","scale":{"domain":[9,22],"nice":false,"zero":false},"axis":{"orient":"right","values":[10,12,14,16,18,20,22],"labels":false,"tickSize":-8,"title":null}},"y2":{"field":"T2"}}},
  {"data":{"name":"oct"},"mark":{"type":"line","stroke":"#f5a35c","strokeWidth":1},
   "encoding":{"x":{"field":"S","type":"quantitative","scale":{"domain":[33,34.4],"nice":false,"zero":false},"axis":{"orient":"top","values":[33.04,33.08,33.12,33.16,33.24,33.28,33.32,33.36,33.44,33.48,33.52,33.56,33.64,33.68,33.72,33.76,33.84,33.88,33.92,33.96,34.04,34.08,34.12,34.16,34.24,34.28,34.32,34.36],"labels":false,"tickSize":-4,"title":null}},
    "y":{"field":"T","type":"quantitative","scale":{"domain":[9,22],"nice":false,"zero":false},"axis":{"orient":"right","values":[11,13,15,17,19,21],"labels":false,"tickSize":-4,"title":null}},
    "order":{"field":"i","type":"quantitative"}}},
  {"data":{"name":"oct"},"mark":{"type":"point","shape":"triangle-right","filled":false,"size":55,"stroke":"#f5a35c","strokeWidth":1,"opacity":1},
   "encoding":{"x":{"field":"S","type":"quantitative","scale":{"domain":[33,34.4],"nice":false,"zero":false},"axis":null},
    "y":{"field":"T","type":"quantitative","scale":{"domain":[9,22],"nice":false,"zero":false},"axis":null}}},
  {"data":{"name":"pa"},"mark":{"type":"point","filled":true,"size":80,"strokeWidth":1.3,"opacity":1},
   "encoding":{"x":{"field":"S","type":"quantitative","scale":{"domain":[33,34.4],"nice":false,"zero":false},"axis":null},
    "y":{"field":"T","type":"quantitative","scale":{"domain":[9,22],"nice":false,"zero":false},"axis":null},
    "shape":{"field":"serie","type":"nominal","scale":{"domain":["σ θ","Clim","Ene-10","Abr-10","May-10","Jul-10","Oct-10"],"range":["M4.4,0L3.988,0.592M3.111,0.99L1.505,1.316M0,1.4L-1.86,1.269M-3.111,0.99L-4.135,0.479M-4.4,0L-3.988,-0.592M-3.111,-0.99L-1.505,-1.316M0,-1.4L1.86,-1.269M3.111,-0.99L4.135,-0.479M2.7,0L2.447,0.359M1.909,0.601L0.923,0.799M0,0.85L-1.141,0.77M-1.909,0.601L-2.537,0.291M-2.7,0L-2.447,-0.359M-1.909,-0.601L-0.923,-0.799M0,-0.85L1.141,-0.77M1.909,-0.601L2.537,-0.291M-1,0L1,0","M-4.15,-0.35H-2.45V0.35H-4.15ZM-1.95,-0.35H-0.25V0.35H-1.95ZM0.25,-0.35H1.95V0.35H0.25ZM2.45,-0.35H4.15V0.35H2.45Z","circle","M-0.75,-0.22H-0.22V-0.75H0.22V-0.22H0.75V0.22H0.22V0.75H-0.22V0.22H-0.75Z","triangle-right","diamond","M-2.3,0H-0.55M0.75,0H2.3M-0.55,-0.75L0.75,0L-0.55,0.75Z"]},"legend":{"title":null}},
    "fill":{"field":"serie","type":"nominal","scale":{"domain":["σ θ","Clim","Ene-10","Abr-10","May-10","Jul-10","Oct-10"],"range":["transparent","#000000","transparent","#e8231c","#cf7d0c","transparent","transparent"]},"legend":{"title":null}},
    "stroke":{"field":"serie","type":"nominal","scale":{"domain":["σ θ","Clim","Ene-10","Abr-10","May-10","Jul-10","Oct-10"],"range":["#666666","transparent","#2323d8","#e8231c","#cf7d0c","#8c8c8c","#f5a35c"]},"legend":{"title":null}}}},
  {"data":{"name":"clim"},"mark":{"type":"line","stroke":"#000000","strokeWidth":4,"strokeDash":[9,4],"interpolate":"catmull-rom"},
   "encoding":{"x":{"field":"S","type":"quantitative","scale":{"domain":[33,34.4],"nice":false,"zero":false},"axis":null},
    "y":{"field":"T","type":"quantitative","scale":{"domain":[9,22],"nice":false,"zero":false},"axis":null},
    "order":{"field":"i","type":"quantitative"}}},
  {"data":{"values":[{"S":34.102,"T":20.32,"txt":"ATr"},{"S":33.915,"T":17.68,"txt":"ASA"},{"S":34.303,"T":13.85,"txt":"AESs"}]},"mark":{"type":"text","fontSize":42,"fontWeight":"bold","align":"center","baseline":"middle","fill":"#000000"},
   "encoding":{"x":{"field":"S","type":"quantitative","scale":{"domain":[33,34.4],"nice":false,"zero":false},"axis":null},
    "y":{"field":"T","type":"quantitative","scale":{"domain":[9,22],"nice":false,"zero":false},"axis":null},"text":{"field":"txt"}}},
  {"data":{"values":[{"S":32.913,"T":20.67,"txt":"a)"}]},"mark":{"type":"text","fontSize":40,"fontWeight":"bold","align":"left","baseline":"alphabetic","fill":"#000000"},
   "encoding":{"x":{"field":"S","type":"quantitative","scale":{"domain":[33,34.4],"nice":false,"zero":false},"axis":null},
    "y":{"field":"T","type":"quantitative","scale":{"domain":[9,22],"nice":false,"zero":false},"axis":null},"text":{"field":"txt"}}}
 ]},
{"width":937,"height":478,
 "resolve":{"axis":{"x":"independent","y":"independent"}},
 "layer":[
  {"data":{"name":"iso"},"mark":{"type":"line","clip":true,"stroke":"#5a5a5a","strokeWidth":1,"strokeDash":[9,5]},
   "encoding":{"x":{"field":"S","type":"quantitative","scale":{"domain":[33,34.4],"nice":false,"zero":false},"axis":{"orient":"bottom","values":[33,33.2,33.4,33.6,33.8,34,34.2,34.4],"format":"~g","ticks":false,"labelPadding":6,"title":null}},
    "y":{"field":"T","type":"quantitative","scale":{"domain":[9,22],"nice":false,"zero":false},"axis":{"orient":"left","values":[10,12,14,16,18,20,22],"format":"~g","ticks":false,"labelPadding":6,"title":"Temperatura [ºC]","titlePadding":12}},
    "detail":{"field":"sig","type":"nominal"}}},
  {"data":{"name":"isolab"},"mark":{"type":"text","angle":-12,"fontSize":11,"stroke":"white","strokeWidth":5,"fill":"white","clip":true},
   "encoding":{"x":{"field":"S","type":"quantitative","scale":{"domain":[33,34.4],"nice":false,"zero":false},"axis":{"orient":"bottom","values":[33,33.2,33.4,33.6,33.8,34,34.2,34.4],"labels":false,"tickSize":-8,"title":null}},
    "y":{"field":"T","type":"quantitative","scale":{"domain":[9,22],"nice":false,"zero":false},"axis":{"orient":"left","values":[10,12,14,16,18,20,22],"labels":false,"tickSize":-8,"title":null}},
    "text":{"field":"lab"}}},
  {"data":{"name":"isolab"},"mark":{"type":"text","angle":-12,"fontSize":11,"fill":"#444444","clip":true},
   "encoding":{"x":{"field":"S","type":"quantitative","scale":{"domain":[33,34.4],"nice":false,"zero":false},"axis":{"orient":"bottom","values":[33.04,33.08,33.12,33.16,33.24,33.28,33.32,33.36,33.44,33.48,33.52,33.56,33.64,33.68,33.72,33.76,33.84,33.88,33.92,33.96,34.04,34.08,34.12,34.16,34.24,34.28,34.32,34.36],"labels":false,"tickSize":-4,"title":null}},
    "y":{"field":"T","type":"quantitative","scale":{"domain":[9,22],"nice":false,"zero":false},"axis":{"orient":"left","values":[11,13,15,17,19,21],"labels":false,"tickSize":-4,"title":null}},
    "text":{"field":"lab"}}},
  {"data":{"name":"boxes"},"mark":{"type":"rule","stroke":"#7a7a7a","strokeWidth":1.5},
   "encoding":{"x":{"field":"S","type":"quantitative","scale":{"domain":[33,34.4],"nice":false,"zero":false},"axis":{"orient":"top","values":[33,33.2,33.4,33.6,33.8,34,34.2,34.4],"labels":false,"tickSize":-8,"title":null}},"x2":{"field":"S2"},
    "y":{"field":"T","type":"quantitative","scale":{"domain":[9,22],"nice":false,"zero":false},"axis":{"orient":"right","values":[10,12,14,16,18,20,22],"labels":false,"tickSize":-8,"title":null}},"y2":{"field":"T2"}}},
  {"data":{"name":"pb"},"mark":{"type":"point","filled":true,"size":80,"strokeWidth":1.3,"opacity":1},
   "encoding":{"x":{"field":"S","type":"quantitative","scale":{"domain":[33,34.4],"nice":false,"zero":false},"axis":{"orient":"top","values":[33.04,33.08,33.12,33.16,33.24,33.28,33.32,33.36,33.44,33.48,33.52,33.56,33.64,33.68,33.72,33.76,33.84,33.88,33.92,33.96,34.04,34.08,34.12,34.16,34.24,34.28,34.32,34.36],"labels":false,"tickSize":-4,"title":null}},
    "y":{"field":"T","type":"quantitative","scale":{"domain":[9,22],"nice":false,"zero":false},"axis":{"orient":"right","values":[11,13,15,17,19,21],"labels":false,"tickSize":-4,"title":null}},
    "shape":{"field":"serie","type":"nominal","scale":{"domain":["σ θ","Clim","Ene-11","Mar-11","Abr-11","Jun-11","Jul-11","Sep-11","Nov-11"],"range":["M4.4,0L3.988,0.592M3.111,0.99L1.505,1.316M0,1.4L-1.86,1.269M-3.111,0.99L-4.135,0.479M-4.4,0L-3.988,-0.592M-3.111,-0.99L-1.505,-1.316M0,-1.4L1.86,-1.269M3.111,-0.99L4.135,-0.479M2.7,0L2.447,0.359M1.909,0.601L0.923,0.799M0,0.85L-1.141,0.77M-1.909,0.601L-2.537,0.291M-2.7,0L-2.447,-0.359M-1.909,-0.601L-0.923,-0.799M0,-0.85L1.141,-0.77M1.909,-0.601L2.537,-0.291M-1,0L1,0","M-4.15,-0.35H-2.45V0.35H-4.15ZM-1.95,-0.35H-0.25V0.35H-1.95ZM0.25,-0.35H1.95V0.35H0.25ZM2.45,-0.35H4.15V0.35H2.45Z","circle","circle","M0,-1V1M-1,0H1M-0.7,-0.7L0.7,0.7M-0.7,0.7L0.7,-0.7","diamond","diamond","square","M0,-1L0.235,-0.324L0.951,-0.309L0.38,0.124L0.588,0.809L0,0.4L-0.588,0.809L-0.38,0.124L-0.951,-0.309L-0.235,-0.324Z"]},"legend":{"title":null}},
    "fill":{"field":"serie","type":"nominal","scale":{"domain":["σ θ","Clim","Ene-11","Mar-11","Abr-11","Jun-11","Jul-11","Sep-11","Nov-11"],"range":["transparent","#000000","transparent","#acd3ac","transparent","#d9bccb","transparent","transparent","transparent"]},"legend":{"title":null}},
    "stroke":{"field":"serie","type":"nominal","scale":{"domain":["σ θ","Clim","Ene-11","Mar-11","Abr-11","Jun-11","Jul-11","Sep-11","Nov-11"],"range":["#666666","transparent","#2323d8","#acd3ac","#e8501e","#8f6282","#9a9a9a","#b02cc6","#2fe0ee"]},"legend":{"title":null}}}},
  {"data":{"name":"clim"},"mark":{"type":"line","stroke":"#000000","strokeWidth":4,"strokeDash":[9,4],"interpolate":"catmull-rom"},
   "encoding":{"x":{"field":"S","type":"quantitative","scale":{"domain":[33,34.4],"nice":false,"zero":false},"axis":null},
    "y":{"field":"T","type":"quantitative","scale":{"domain":[9,22],"nice":false,"zero":false},"axis":null},
    "order":{"field":"i","type":"quantitative"}}},
  {"data":{"values":[{"S":34.102,"T":20.45,"txt":"ATr"},{"S":33.915,"T":16.02,"txt":"ASA"},{"S":34.3,"T":13.52,"txt":"AESs"}]},"mark":{"type":"text","fontSize":42,"fontWeight":"bold","align":"center","baseline":"middle","fill":"#000000"},
   "encoding":{"x":{"field":"S","type":"quantitative","scale":{"domain":[33,34.4],"nice":false,"zero":false},"axis":null},
    "y":{"field":"T","type":"quantitative","scale":{"domain":[9,22],"nice":false,"zero":false},"axis":null},"text":{"field":"txt"}}},
  {"data":{"values":[{"S":32.913,"T":20.5,"txt":"b)"}]},"mark":{"type":"text","fontSize":40,"fontWeight":"bold","align":"left","baseline":"alphabetic","fill":"#000000"},
   "encoding":{"x":{"field":"S","type":"quantitative","scale":{"domain":[33,34.4],"nice":false,"zero":false},"axis":null},
    "y":{"field":"T","type":"quantitative","scale":{"domain":[9,22],"nice":false,"zero":false},"axis":null},"text":{"field":"txt"}}}
 ]},
{"width":937,"height":471,
 "resolve":{"axis":{"x":"independent","y":"independent"}},
 "layer":[
  {"data":{"name":"iso"},"mark":{"type":"line","clip":true,"stroke":"#5a5a5a","strokeWidth":1,"strokeDash":[9,5]},
   "encoding":{"x":{"field":"S","type":"quantitative","scale":{"domain":[33,34.4],"nice":false,"zero":false},"axis":{"orient":"bottom","values":[33,33.2,33.4,33.6,33.8,34,34.2,34.4],"format":"~g","ticks":false,"labelPadding":6,"title":"Salinidad","titleFontSize":28,"titlePadding":7}},
    "y":{"field":"T","type":"quantitative","scale":{"domain":[9,22],"nice":false,"zero":false},"axis":{"orient":"left","values":[10,12,14,16,18,20,22],"format":"~g","ticks":false,"labelPadding":6,"title":"Temperatura [ºC]","titlePadding":12}},
    "detail":{"field":"sig","type":"nominal"}}},
  {"data":{"name":"isolab"},"mark":{"type":"text","angle":-12,"fontSize":11,"stroke":"white","strokeWidth":5,"fill":"white","clip":true},
   "encoding":{"x":{"field":"S","type":"quantitative","scale":{"domain":[33,34.4],"nice":false,"zero":false},"axis":{"orient":"bottom","values":[33,33.2,33.4,33.6,33.8,34,34.2,34.4],"labels":false,"tickSize":-8,"title":null}},
    "y":{"field":"T","type":"quantitative","scale":{"domain":[9,22],"nice":false,"zero":false},"axis":{"orient":"left","values":[10,12,14,16,18,20,22],"labels":false,"tickSize":-8,"title":null}},
    "text":{"field":"lab"}}},
  {"data":{"name":"isolab"},"mark":{"type":"text","angle":-12,"fontSize":11,"fill":"#444444","clip":true},
   "encoding":{"x":{"field":"S","type":"quantitative","scale":{"domain":[33,34.4],"nice":false,"zero":false},"axis":{"orient":"bottom","values":[33.04,33.08,33.12,33.16,33.24,33.28,33.32,33.36,33.44,33.48,33.52,33.56,33.64,33.68,33.72,33.76,33.84,33.88,33.92,33.96,34.04,34.08,34.12,34.16,34.24,34.28,34.32,34.36],"labels":false,"tickSize":-4,"title":null}},
    "y":{"field":"T","type":"quantitative","scale":{"domain":[9,22],"nice":false,"zero":false},"axis":{"orient":"left","values":[11,13,15,17,19,21],"labels":false,"tickSize":-4,"title":null}},
    "text":{"field":"lab"}}},
  {"data":{"name":"boxes"},"mark":{"type":"rule","stroke":"#7a7a7a","strokeWidth":1.5},
   "encoding":{"x":{"field":"S","type":"quantitative","scale":{"domain":[33,34.4],"nice":false,"zero":false},"axis":{"orient":"top","values":[33,33.2,33.4,33.6,33.8,34,34.2,34.4],"labels":false,"tickSize":-8,"title":null}},"x2":{"field":"S2"},
    "y":{"field":"T","type":"quantitative","scale":{"domain":[9,22],"nice":false,"zero":false},"axis":{"orient":"right","values":[10,12,14,16,18,20,22],"labels":false,"tickSize":-8,"title":null}},"y2":{"field":"T2"}}},
  {"data":{"name":"pc"},"mark":{"type":"point","filled":true,"size":80,"strokeWidth":1.3,"opacity":1},
   "encoding":{"x":{"field":"S","type":"quantitative","scale":{"domain":[33,34.4],"nice":false,"zero":false},"axis":{"orient":"top","values":[33.04,33.08,33.12,33.16,33.24,33.28,33.32,33.36,33.44,33.48,33.52,33.56,33.64,33.68,33.72,33.76,33.84,33.88,33.92,33.96,34.04,34.08,34.12,34.16,34.24,34.28,34.32,34.36],"labels":false,"tickSize":-4,"title":null}},
    "y":{"field":"T","type":"quantitative","scale":{"domain":[9,22],"nice":false,"zero":false},"axis":{"orient":"right","values":[11,13,15,17,19,21],"labels":false,"tickSize":-4,"title":null}},
    "shape":{"field":"serie","type":"nominal","scale":{"domain":["σ θ","Clim","Ene-12","Mar 12-12","Mar 31-12","Jun-12"],"range":["M4.4,0L3.988,0.592M3.111,0.99L1.505,1.316M0,1.4L-1.86,1.269M-3.111,0.99L-4.135,0.479M-4.4,0L-3.988,-0.592M-3.111,-0.99L-1.505,-1.316M0,-1.4L1.86,-1.269M3.111,-0.99L4.135,-0.479M2.7,0L2.447,0.359M1.909,0.601L0.923,0.799M0,0.85L-1.141,0.77M-1.909,0.601L-2.537,0.291M-2.7,0L-2.447,-0.359M-1.909,-0.601L-0.923,-0.799M0,-0.85L1.141,-0.77M1.909,-0.601L2.537,-0.291M-1,0L1,0","M-4.15,-0.35H-2.45V0.35H-4.15ZM-1.95,-0.35H-0.25V0.35H-1.95ZM0.25,-0.35H1.95V0.35H0.25ZM2.45,-0.35H4.15V0.35H2.45Z","circle","circle","M0,-0.8V0.8M-0.8,0H0.8M-0.55,-0.55L0.55,0.55M-0.55,0.55L0.55,-0.55","diamond"]},"legend":{"title":null}},
    "fill":{"field":"serie","type":"nominal","scale":{"domain":["σ θ","Clim","Ene-12","Mar 12-12","Mar 31-12","Jun-12"],"range":["transparent","#000000","transparent","#acd3ac","transparent","#d9bccb"]},"legend":{"title":null}},
    "stroke":{"field":"serie","type":"nominal","scale":{"domain":["σ θ","Clim","Ene-12","Mar 12-12","Mar 31-12","Jun-12"],"range":["#666666","transparent","#2323d8","#acd3ac","#ee2222","#8f6282"]},"legend":{"title":null}}}},
  {"data":{"name":"clim"},"mark":{"type":"line","stroke":"#000000","strokeWidth":4,"strokeDash":[9,4],"interpolate":"catmull-rom"},
   "encoding":{"x":{"field":"S","type":"quantitative","scale":{"domain":[33,34.4],"nice":false,"zero":false},"axis":null},
    "y":{"field":"T","type":"quantitative","scale":{"domain":[9,22],"nice":false,"zero":false},"axis":null},
    "order":{"field":"i","type":"quantitative"}}},
  {"data":{"values":[{"S":34.102,"T":20.15,"txt":"ATr"},{"S":33.915,"T":16.3,"txt":"ASA"},{"S":34.29,"T":13.4,"txt":"AESs"}]},"mark":{"type":"text","fontSize":42,"fontWeight":"bold","align":"center","baseline":"middle","fill":"#000000"},
   "encoding":{"x":{"field":"S","type":"quantitative","scale":{"domain":[33,34.4],"nice":false,"zero":false},"axis":null},
    "y":{"field":"T","type":"quantitative","scale":{"domain":[9,22],"nice":false,"zero":false},"axis":null},"text":{"field":"txt"}}},
  {"data":{"values":[{"S":32.913,"T":20.43,"txt":"c)"}]},"mark":{"type":"text","fontSize":40,"fontWeight":"bold","align":"left","baseline":"alphabetic","fill":"#000000"},
   "encoding":{"x":{"field":"S","type":"quantitative","scale":{"domain":[33,34.4],"nice":false,"zero":false},"axis":null},
    "y":{"field":"T","type":"quantitative","scale":{"domain":[9,22],"nice":false,"zero":false},"axis":null},"text":{"field":"txt"}}}
 ]}
]
}
